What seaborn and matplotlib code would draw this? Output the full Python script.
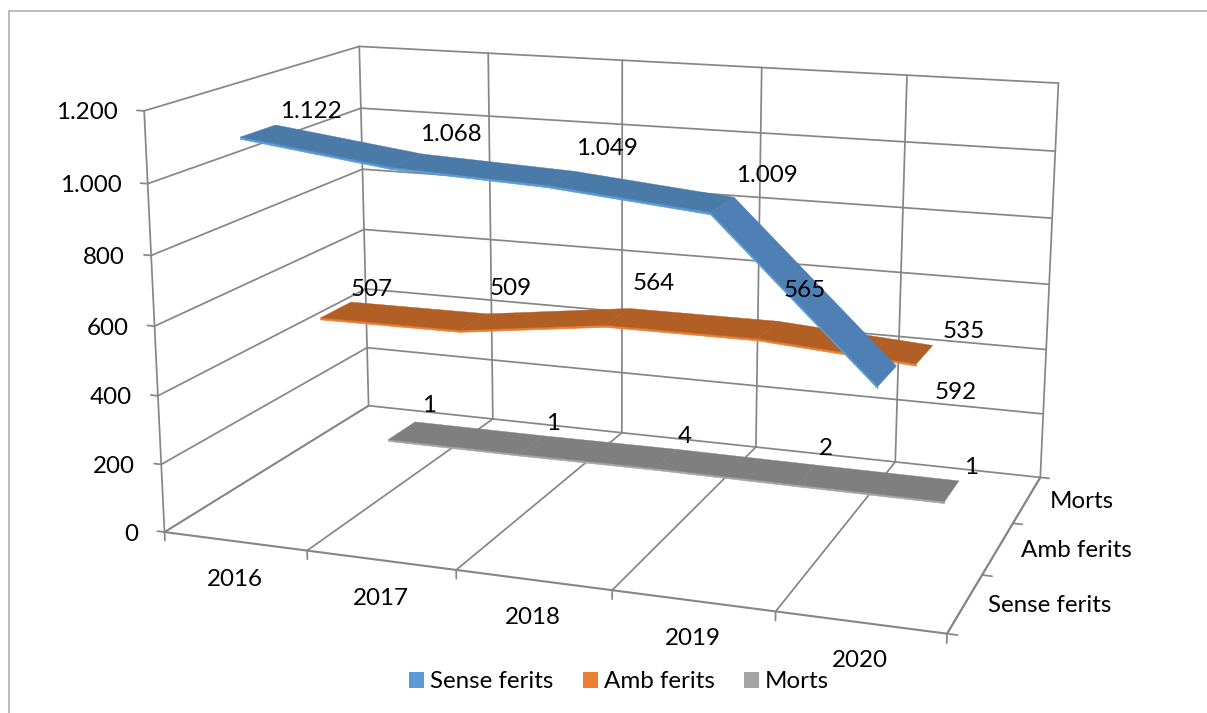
import numpy as np
import matplotlib
matplotlib.use("Agg")
import matplotlib.pyplot as plt
import seaborn as sns
from matplotlib.lines import Line2D
from matplotlib.patches import Patch
from mpl_toolkits.mplot3d import proj3d
from mpl_toolkits.mplot3d.art3d import Poly3DCollection

# ---- data ----
years = ["2016", "2017", "2018", "2019", "2020"]
series_names = ["Sense ferits", "Amb ferits", "Morts"]
sense_ferits = [1122, 1068, 1049, 1009, 592]
amb_ferits = [507, 509, 564, 565, 535]
morts = [1, 1, 4, 2, 1]
value_ticks = [0, 200, 400, 600, 800, 1000, 1200]
value_tick_labels = ["0", "200", "400", "600", "800", "1.000", "1.200"]
value_labels = [["1.122", "1.068", "1.049", "1.009", "592"],
                ["507", "509", "564", "565", "535"],
                ["1", "1", "4", "2", "1"]]

# ---- style / layout ----
sns.set_theme(style="white")
plt.rcParams["font.family"] = ["Lato", "DejaVu Sans"]
FW, FH = 1207, 713
FS = 17.4
GRID = "#868686"
legend_colors = sns.color_palette(["#5b9bd5", "#ed7d31", "#a5a5a5"])
top_colors = ["#4a7aa8", "#b25f26", "#7f7f7f"]
steep_top_colors = ["#4e80b6", "#b25f26", "#7f7f7f"]
edge_colors = ["#5b9bd5", "#ed7d31", "#a5a5a5"]
HALF_W = 0.23
THICK = 6
# text offsets (px) from the anchor of each data label
label_offsets = [[(53, 19), (44, 26), (46, 30), (44, 29), (68, -16)],
                 [(36, 20), (37, 33), (36, 33), (37, 39), (39, 23)],
                 [(27, 25), (22, 21), (19, 22), (20, 26), (19, 24)]]

fig = plt.figure(figsize=(FW / 100, FH / 100), dpi=100, facecolor="white")
ax = fig.add_axes([0.1, 0.1, 0.5, 0.5], projection="3d")
ax.set_xlim(0, 5, view_margin=0)
ax.set_ylim(0, 3, view_margin=0)
ax.set_zlim(0, 1200, view_margin=0)
ax.view_init(elev=14.1221, azim=-70.2626, roll=-0.0337)
ax.set_proj_type("persp", focal_length=0.4542)
ax.set_box_aspect((1, 0.5941, 0.5365), zoom=1)
ax.set_axis_off()
ax.patch.set_alpha(0)
ax.computed_zorder = False

# place the 3-D box in the figure
S, TX, TY = 5259.437, 617.600, 304.508
lim = ax.transData.inverted().transform(ax.transAxes.transform([[0, 0], [1, 1]]))
(x0, y0), (x1, y1) = lim
ax.set_position([(TX + S * x0) / FW, (FH - TY + S * y0) / FH,
                 S * (x1 - x0) / FW, S * (y1 - y0) / FH])

M = ax.get_proj()


def gl(xs, ys, zs, lw=1.25, color=GRID, z=1):
    ax.plot(xs, ys, zs, color=color, lw=lw, zorder=z, clip_on=False,
            solid_capstyle="round")


def label(text, x, y, z, dx, dy, ha="center", va="center"):
    X, Y, _ = proj3d.proj_transform(np.array([x], float), np.array([y], float),
                                    np.array([z], float), M)
    ax.annotate(text, xy=(X[0], Y[0]), xytext=(dx, dy), textcoords="offset pixels",
                ha=ha, va=va, fontsize=FS, color="black", zorder=10,
                annotation_clip=False)


nx, ny, ztop = len(years), len(series_names), value_ticks[-1]
# walls and floor
gl([0, 0], [0, 0], [0, ztop])
for j in range(nx + 1):
    gl([j, j], [0, ny], [0, 0])
    gl([j, j], [ny, ny], [0, ztop])
    gl([j, j], [0, 0], [0, -25])              # category tick
for z in value_ticks:
    gl([0, 0], [0, ny], [z, z])
    gl([0, nx], [ny, ny], [z, z])
    gl([0, -0.05], [0, 0], [z, z])            # value tick
for i in range(ny + 1):
    gl([nx, nx + 0.06], [i, i], [0, 0])       # series tick
gl([0, nx], [0, 0], [0, 0], lw=1.5)
gl([nx, nx], [0, ny], [0, 0], lw=1.5)

# ribbons
xs = np.arange(nx) + 0.5
for i, values in enumerate([sense_ferits, amb_ferits, morts]):
    yc = i + 0.5
    top, front, shades = [], [], []
    for j in range(nx - 1):
        a, b = values[j], values[j + 1]
        top.append([(xs[j], yc - HALF_W, a), (xs[j + 1], yc - HALF_W, b),
                    (xs[j + 1], yc + HALF_W, b), (xs[j], yc + HALF_W, a)])
        front.append([(xs[j], yc - HALF_W, a), (xs[j + 1], yc - HALF_W, b),
                      (xs[j + 1], yc - HALF_W, b - THICK), (xs[j], yc - HALF_W, a - THICK)])
        shades.append(steep_top_colors[i] if abs(b - a) > 200 else top_colors[i])
    zo = 5 - i
    ax.add_collection3d(Poly3DCollection(front, facecolor=edge_colors[i],
                                         edgecolor=edge_colors[i], linewidth=0.5,
                                         zorder=zo, clip_on=False))
    ax.add_collection3d(Poly3DCollection(top, facecolor=shades,
                                         edgecolor=shades, linewidth=0.3,
                                         zorder=zo + 0.1, clip_on=False))

# texts
for i, values in enumerate([sense_ferits, amb_ferits, morts]):
    for j, v in enumerate(values):
        dx, dy = label_offsets[i][j]
        label(value_labels[i][j], j + 0.5, i + 0.5, v, dx, dy)
for j, yr in enumerate(years):
    label(yr, j + 0.5, 0, 0, 0, -38)
for i, name in enumerate(series_names):
    label(name, nx, i + 0.5, 0, 23, -2, ha="left")
for z, t in zip(value_ticks, value_tick_labels):
    label(t, 0, 0, z, -26, -2, ha="right")

# legend
handles = [Patch(facecolor=c, edgecolor="none", label=n)
           for c, n in zip(legend_colors, series_names)]
fig.legend(handles=handles, loc="center", bbox_to_anchor=(619 / FW, 1 - 682 / FH),
           ncol=3, frameon=False, fontsize=FS, handlelength=0.62, handleheight=0.62,
           handletextpad=0.26, columnspacing=1.2, borderpad=0, labelcolor="black")

# outer frame
frame = "#a9a9a9"
fig.add_artist(Line2D([9 / FW, 9 / FW], [0, 1 - 11 / FH], color=frame, lw=1.1))
fig.add_artist(Line2D([9 / FW, 1], [1 - 11 / FH, 1 - 11 / FH], color=frame, lw=1.1))

fig.savefig("out.png", dpi=100, facecolor="white")
